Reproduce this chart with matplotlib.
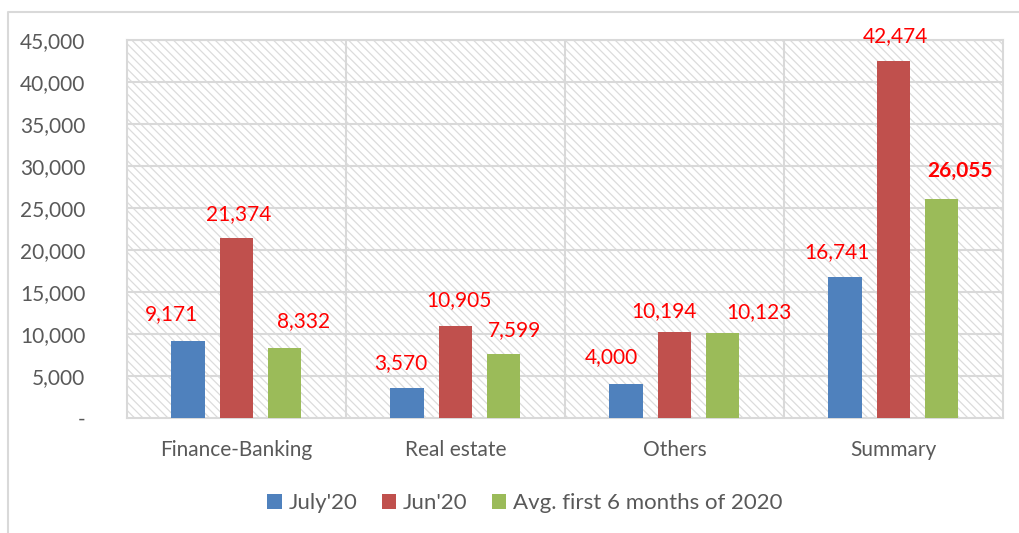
import numpy as np
import matplotlib.pyplot as plt
from matplotlib.lines import Line2D
from matplotlib.patches import Rectangle

# chart data
categories = ['Finance-Banking', 'Real estate', 'Others', 'Summary']
series_names = ["July'20", "Jun'20", 'Avg. first 6 months of 2020']
july20 = [9171, 3570, 4000, 16741]
jun20 = [21374, 10905, 10194, 42474]
avg_6m = [8332, 7599, 10123, 26055]
y_ticks = [0, 5000, 10000, 15000, 20000, 25000, 30000, 35000, 40000, 45000]

colors = ['#4F81BD', '#C0504D', '#9BBB59']
# label nudges in pixels (dx, dy) per series, per category
nudges = [
    [(-16, 27), (-6, 25), (-14, 27), (-8, 25)],
    [(2, 24), (3, 26), (-11, 21), (2, 25)],
    [(19, 27), (11, 24), (37, 21), (19, 28)],
]

plt.rcParams['font.family'] = ['Lato', 'DejaVu Sans']
plt.rcParams['hatch.color'] = '#dcdcdc'
plt.rcParams['hatch.linewidth'] = 0.9

fig = plt.figure(figsize=(10.19, 5.33), dpi=100)
ax = fig.add_axes([127 / 1019, 1 - 418 / 533, 876 / 1019, 378 / 533])

# outer border of the chart (only left and top edges show)
fig.lines.append(Line2D([8 / 1019, 8 / 1019, 1.05], [-0.05, 1 - 12 / 533, 1 - 12 / 533],
                        transform=fig.transFigure, color='#d9d9d9', linewidth=1.5))

# hatched plot background
ax.add_patch(Rectangle((0, 0), 1, 1, transform=ax.transAxes, facecolor='white',
                       hatch='\\\\\\\\', edgecolor='#dcdcdc', linewidth=0, zorder=0))

x = np.arange(len(categories))
width = 0.152
offsets = [-0.222, 0, 0.218]
all_series = [july20, jun20, avg_6m]

for s, (vals, name, col) in enumerate(zip(all_series, series_names, colors)):
    ax.bar(x + offsets[s], vals, width, color=col, label=name, zorder=3)
    for i, v in enumerate(vals):
        dx, dy = nudges[s][i]
        bold = (s == 2 and i == 3)
        ax.annotate(f'{v:,}', (x[i] + offsets[s], v), xytext=(dx, dy),
                    textcoords='offset pixels', ha='center', va='center',
                    color='#FF0000', fontsize=15,
                    fontweight='bold' if bold else 'normal', zorder=4)

ax.set_xlim(-0.5, 3.5)
ax.set_ylim(0, 45000)
ax.set_yticks(y_ticks)
ax.set_yticklabels(['-' if t == 0 else f'{t:,}' for t in y_ticks])
ax.set_xticks(x)
ax.set_xticklabels(categories)

# grid: horizontal at y ticks, vertical at category boundaries
for t in y_ticks[1:]:
    ax.axhline(t, color='#d9d9d9', linewidth=1.5, zorder=1)
for b in [0.5, 1.5, 2.5]:
    ax.axvline(b, color='#d9d9d9', linewidth=1.5, zorder=1)

ax.tick_params(axis='both', length=0, labelsize=15, labelcolor='#595959')
ax.tick_params(axis='y', pad=30)
ax.tick_params(axis='x', pad=16)
for sp in ax.spines.values():
    sp.set_color('#d9d9d9')
    sp.set_linewidth(1.5)

fig.legend(loc='center', bbox_to_anchor=(525 / 1019, 1 - 503 / 533), ncol=3,
           frameon=False, fontsize=16, labelcolor='#595959', handlelength=0.65,
           handleheight=0.65, handletextpad=0.3, columnspacing=1.1)

plt.savefig('out.png', dpi=100)
